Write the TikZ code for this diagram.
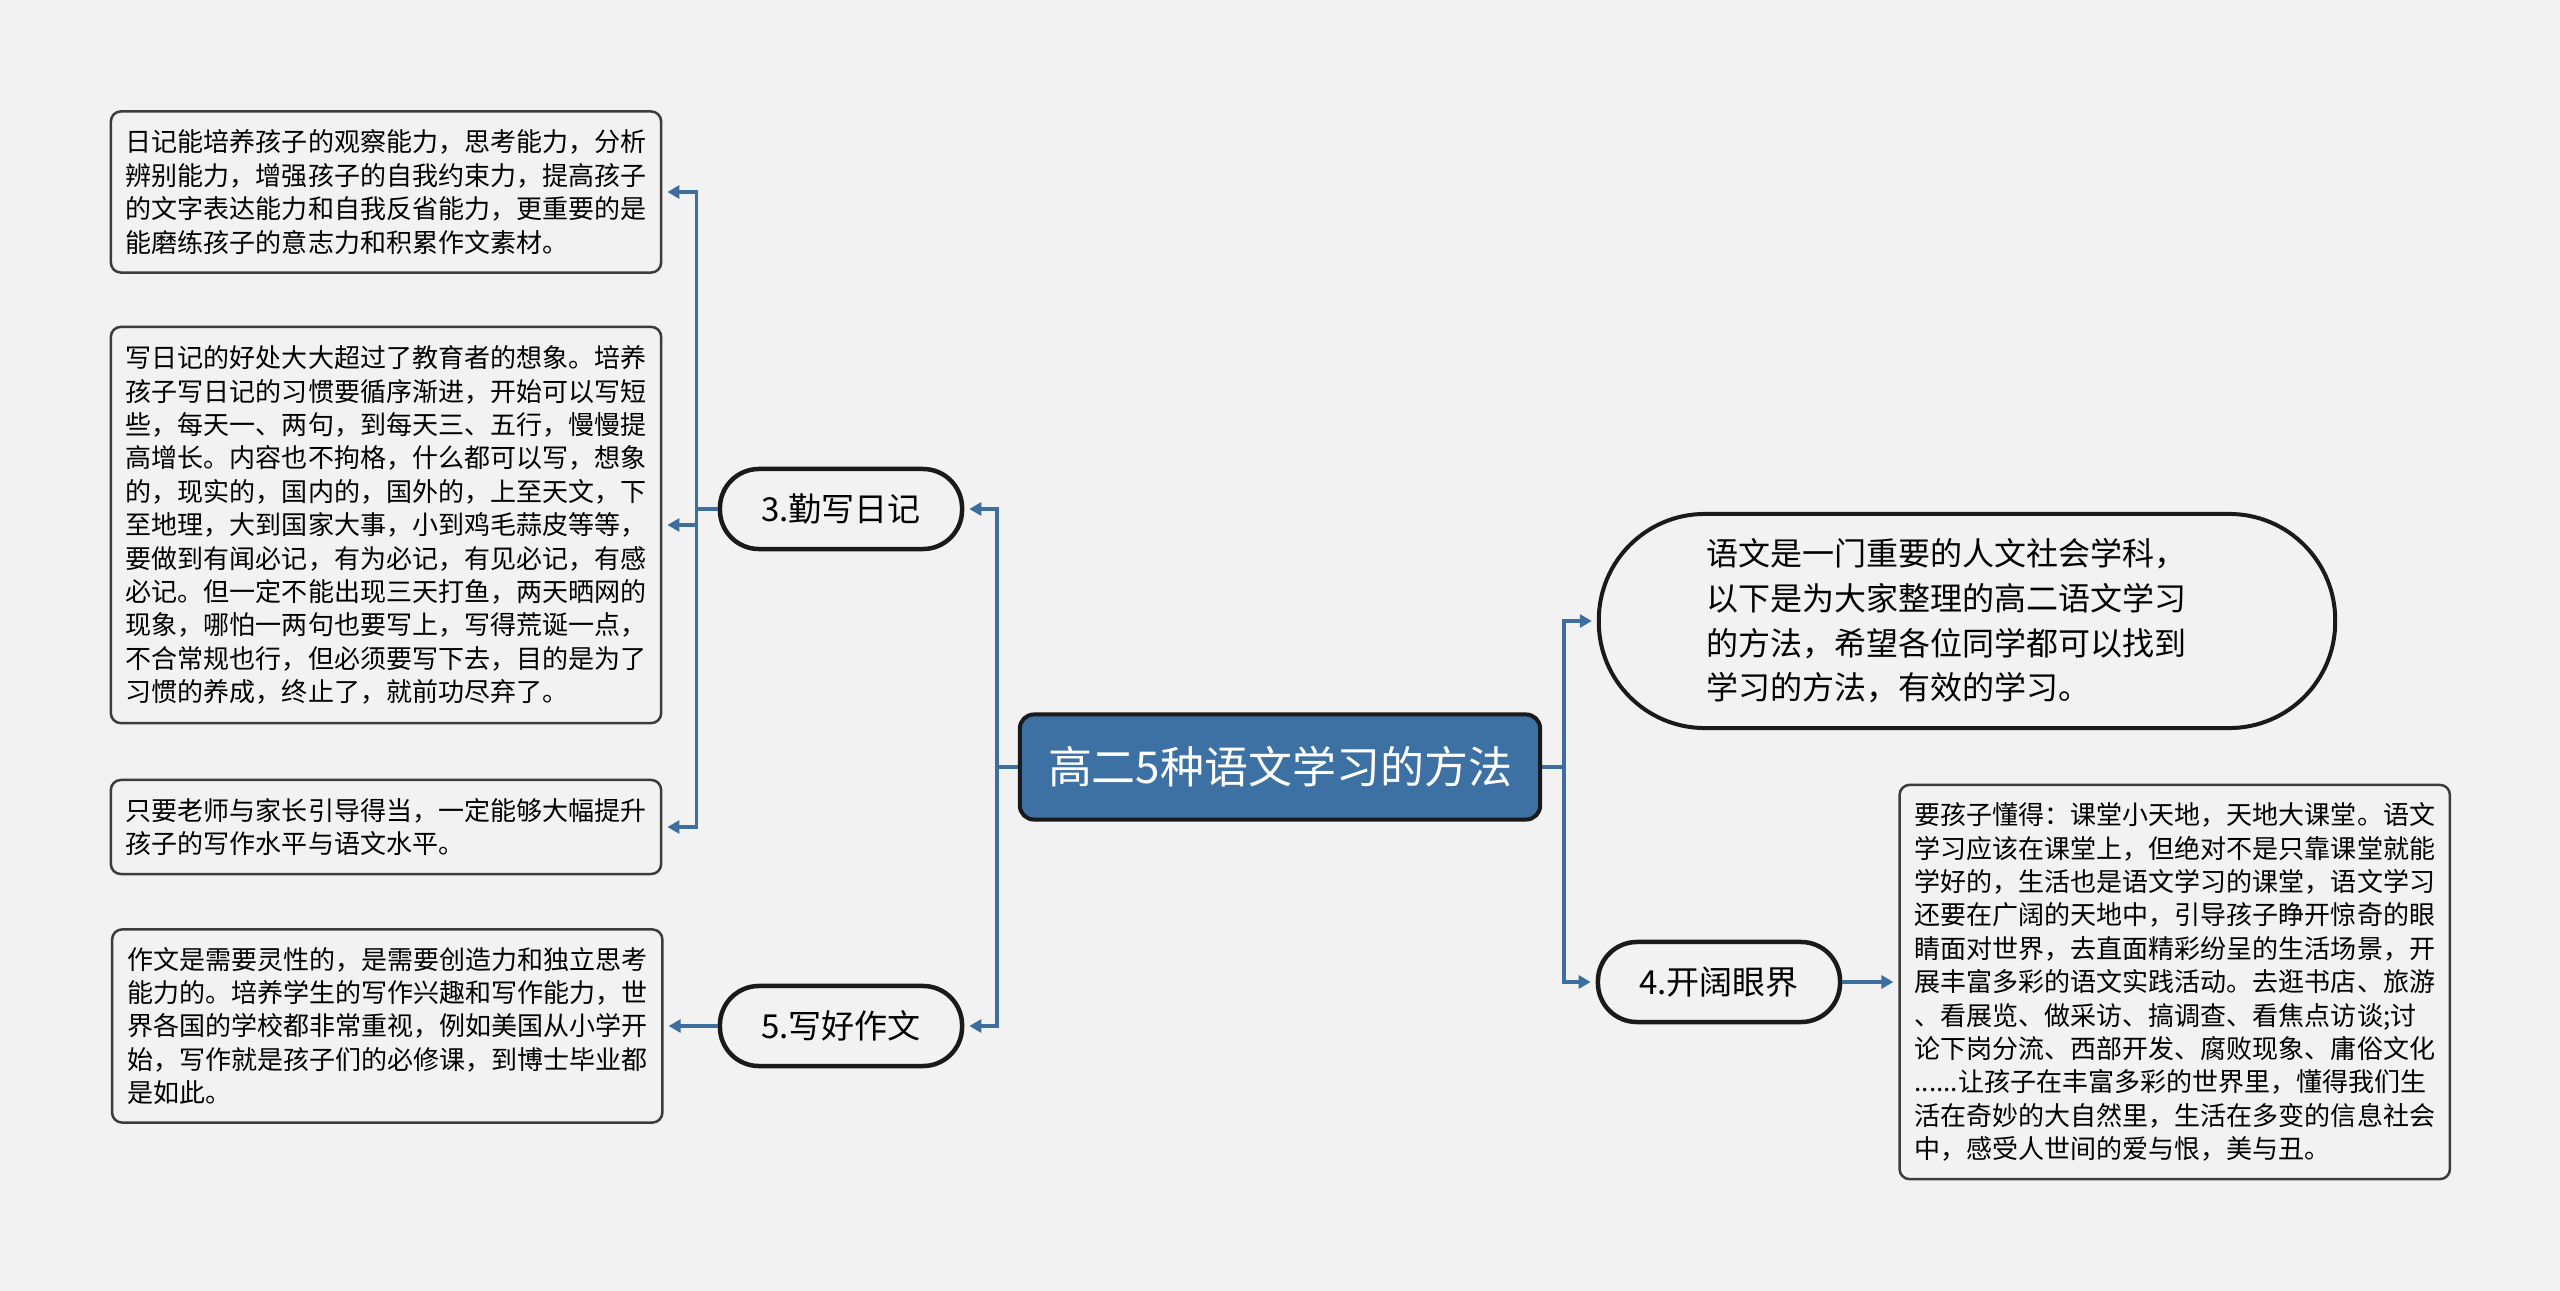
\documentclass[tikz,border=0pt]{standalone}
\usepackage{fontspec}
\setmainfont{Noto Sans CJK SC}
\usetikzlibrary{arrows.meta, positioning}
\definecolor{bgcol}{HTML}{F2F2F2}
\definecolor{linkblue}{HTML}{3C6E9F}
\definecolor{rootblue}{HTML}{3D71A3}
\definecolor{edgecol}{HTML}{1A1A1A}

\begin{document}
\begin{tikzpicture}[
  x=0.01cm, y=-0.01cm,
  node distance=0.56cm,
  root/.style={draw=edgecol, line width=0.04cm, rounded corners=0.14cm, fill=rootblue, text=white, minimum width=5.2cm, minimum height=1.05cm, font=\fontsize{12.5}{15}\selectfont},
  topic/.style={draw=edgecol, line width=0.045cm, rounded corners=0.39cm, fill=bgcol, minimum width=2.42cm, minimum height=0.8cm, font=\fontsize{9.4}{11}\selectfont},
  lead/.style={draw=edgecol, line width=0.04cm, rounded corners=1.06cm, fill=bgcol, minimum width=7.36cm, minimum height=2.14cm, text width=5.2cm, align=left, font=\fontsize{9.1}{12.7}\selectfont},
  note/.style={draw=edgecol!85, line width=0.025cm, rounded corners=0.1cm, fill=bgcol, text width=5.2cm, inner xsep=0.15cm, align=left, font=\fontsize{7.4}{9.5}\selectfont},
  link/.style={draw=linkblue, line width=0.035cm, -{Triangle[length=0.12cm, width=0.13cm]}, shorten >=0.05cm}
]
\useasboundingbox (0,0) rectangle (2560,1291);
\fill[bgcol] (0,0) rectangle (2560,1291);

% centre and main branches
\node[root] (main) at (1280,767) {高二5种语文学习的方法};
\node[topic] (diary) at (841,509) {3.勤写日记};
\node[topic] (essay) at (841,1026) {5.写好作文};
\node[topic] (vision) at (1719,982) {4.开阔眼界};
\node[lead] (intro) at (1967,621) {语文是一门重要的人文社会学科，\\以下是为大家整理的高二语文学习\\的方法，希望各位同学都可以找到\\学习的方法，有效的学习。};

% detail notes
\node[note, minimum height=1.61cm] (benefit) at (386,192) {日记能培养孩子的观察能力，思考能力，分析\\辨别能力，增强孩子的自我约束力，提高孩子\\的文字表达能力和自我反省能力，更重要的是\\能磨练孩子的意志力和积累作文素材。};
\node[note, minimum height=3.96cm] (habit) at (386,525) {写日记的好处大大超过了教育者的想象。培养\\孩子写日记的习惯要循序渐进，开始可以写短\\些，每天一、两句，到每天三、五行，慢慢提\\高增长。内容也不拘格，什么都可以写，想象\\的，现实的，国内的，国外的，上至天文，下\\至地理，大到国家大事，小到鸡毛蒜皮等等，\\要做到有闻必记，有为必记，有见必记，有感\\必记。但一定不能出现三天打鱼，两天晒网的\\现象，哪怕一两句也要写上，写得荒诞一点，\\不合常规也行，但必须要写下去，目的是为了\\习惯的养成，终止了，就前功尽弃了。};
\node[note, minimum height=0.94cm] (guide) at (386,827) {只要老师与家长引导得当，一定能够大幅提升\\孩子的写作水平与语文水平。};
\node[note, minimum height=1.93cm, left=0.54cm of essay] (spirit) {作文是需要灵性的，是需要创造力和独立思考\\能力的。培养学生的写作兴趣和写作能力，世\\界各国的学校都非常重视，例如美国从小学开\\始，写作就是孩子们的必修课，到博士毕业都\\是如此。};
\node[note, minimum height=3.94cm, right=of vision] (world) {要孩子懂得：课堂小天地，天地大课堂。语文\\学习应该在课堂上，但绝对不是只靠课堂就能\\学好的，生活也是语文学习的课堂，语文学习\\还要在广阔的天地中，引导孩子睁开惊奇的眼\\睛面对世界，去直面精彩纷呈的生活场景，开\\展丰富多彩的语文实践活动。去逛书店、旅游\\、看展览、做采访、搞调查、看焦点访谈;讨\\论下岗分流、西部开发、腐败现象、庸俗文化\\......让孩子在丰富多彩的世界里，懂得我们生\\活在奇妙的大自然里，生活在多变的信息社会\\中，感受人世间的爱与恨，美与丑。};

% connectors
\draw[link] (main.west) -- ++(-21,0) |- (diary.east);
\draw[link] (main.west) -- ++(-21,0) |- (essay.east);
\draw[link] (main.east) -- ++(22,0) |- (intro.west);
\draw[link] (main.east) -- ++(22,0) |- (vision.west);
\draw[link] (diary.west) -- ++(-21,0) |- (benefit.east);
\draw[link] (diary.west) -- ++(-21,0) |- (habit.east);
\draw[link] (diary.west) -- ++(-21,0) |- (guide.east);
\draw[link] (essay.west) -- (spirit.east);
\draw[link] (vision.east) -- (world.west);
\end{tikzpicture}
\end{document}
